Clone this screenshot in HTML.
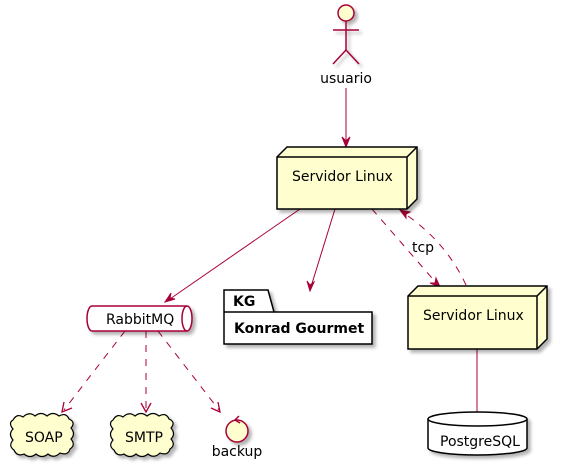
<!DOCTYPE html>
<html><head><meta charset="utf-8"><style>
html,body{margin:0;padding:0;background:#fff;}
svg{display:block;}
text{font-family:"DejaVu Sans","Liberation Sans",sans-serif;font-size:14px;fill:#000;}
</style></head><body>
<svg width="563" height="467" viewBox="0 0 563 467" xmlns="http://www.w3.org/2000/svg">
<defs>
<filter id="sh" x="-20%" y="-20%" width="150%" height="150%"><feDropShadow dx="3" dy="3" stdDeviation="1.5" flood-color="#000" flood-opacity="0.3"/></filter>
</defs>
<g stroke="#A80036" stroke-width="1.5" fill="none" filter="url(#sh)">
<circle cx="346" cy="13" r="8" fill="#FEFECE"/>
<line x1="346" y1="21" x2="346" y2="50"/>
<line x1="333" y1="30" x2="359" y2="30"/>
<polyline points="333,64 346,50 359,64"/>
</g>
<text x="346" y="83" text-anchor="middle">usuario</text>
<g stroke="#A80036" stroke-width="1" fill="none">
<line x1="346" y1="88" x2="346" y2="145"/>
<line x1="300" y1="209" x2="167" y2="301"/>
<line x1="335" y1="209" x2="310" y2="290"/>
<line x1="372" y1="209" x2="438" y2="285" stroke-dasharray="7,7"/>
<path d="M466,285 Q445,240 402,212" stroke-dasharray="7,7"/>
<line x1="477" y1="349" x2="477" y2="412"/>
<line x1="125" y1="331" x2="64" y2="410" stroke-dasharray="7,7"/>
<line x1="146" y1="331" x2="146" y2="410" stroke-dasharray="7,7"/>
<line x1="158" y1="331" x2="219" y2="410" stroke-dasharray="7,7"/>
</g>
<g fill="#A80036" stroke="#A80036">
<polygon points="346,147 342,137 346,141 350,137"/>
<polygon points="165,302 171,293 170,298 175,299"/>
<polygon points="310,291 307,281 310,285 314,282"/>
<polygon points="440,287 430,283 435,283 436,278"/>
<polygon points="400,210 410,212 406,214 406,218"/>
</g>
<g fill="none" stroke="#A80036" stroke-width="1.3">
<polyline points="64,402 62,412 72,408"/>
<polyline points="141,403 146,412 151,403"/>
<polyline points="211,408 220,412 218,402"/>
</g>
<text x="412" y="252">tcp</text>
<g stroke="#000" stroke-width="1.5" fill="#FEFECE" filter="url(#sh)">
<path d="M277,157 L287,147 L417,147 L417,199 L407,209 L277,209 Z"/>
</g>
<g stroke="#000" stroke-width="1.5" fill="none">
<path d="M277,157 L407,157 L417,147 M407,157 L407,209"/>
</g>
<text x="292" y="181">Servidor Linux</text>
<g stroke="#000" stroke-width="1.5" fill="#FEFECE" filter="url(#sh)">
<path d="M408,296 L418,286 L547,286 L547,339 L537,349 L408,349 Z"/>
</g>
<g stroke="#000" stroke-width="1.5" fill="none">
<path d="M408,296 L537,296 L547,286 M537,296 L537,349"/>
</g>
<text x="423" y="320">Servidor Linux</text>
<g stroke="#000" stroke-width="1.5" fill="#fff" filter="url(#sh)">
<path d="M428,419 A49.5,7 0 0 1 527,419 L527,448 A49.5,7 0 0 1 428,448 Z"/>
</g>
<path d="M428,419 A49.5,7 0 0 0 527,419" stroke="#000" stroke-width="1.5" fill="none"/>
<text x="440" y="446">PostgreSQL</text>
<g stroke="#A80036" stroke-width="1.5" fill="#fff" filter="url(#sh)">
<path d="M92,306 L187,306 A5,12.5 0 0 1 187,331 L92,331 A5,12.5 0 0 1 92,306 Z"/>
</g>
<path d="M187,306 A5,12.5 0 0 0 187,331" stroke="#A80036" stroke-width="1.5" fill="none"/>
<text x="106" y="324">RabbitMQ</text>
<g stroke="#000" stroke-width="1.5" fill="#fff" filter="url(#sh)">
<path d="M224,290 L268,290 L274,312 L372,312 L372,344 L224,344 Z"/>
</g>
<line x1="224" y1="312" x2="274" y2="312" stroke="#000" stroke-width="1.5"/>
<text x="233" y="306" font-weight="bold">KG</text>
<text x="234" y="333" font-weight="bold">Konrad Gourmet</text>
<g stroke="#000" stroke-width="1.2" fill="#FEFECE" filter="url(#sh)">
<path d="M13,420 q4,-7 10,-3 q6,-6 12,-1 q6,-5 12,0 q6,-5 12,0 q7,-4 10,3 q7,3 2,9 q5,6 0,11 q5,6 -1,10 q-2,7 -10,4 q-6,6 -12,1 q-6,5 -12,0 q-6,5 -12,0 q-7,3 -10,-4 q-6,-4 -1,-10 q-5,-6 0,-11 q-5,-6 0,-9 z"/>
<path d="M113,420 q4,-7 10,-3 q6,-6 12,-1 q6,-5 12,0 q6,-5 12,0 q7,-4 10,3 q7,3 2,9 q5,6 0,11 q5,6 -1,10 q-2,7 -10,4 q-6,6 -12,1 q-6,5 -12,0 q-6,5 -12,0 q-7,3 -10,-4 q-6,-4 -1,-10 q-5,-6 0,-11 q-5,-6 0,-9 z"/>
</g>
<text x="25" y="442">SOAP</text>
<text x="125" y="442">SMTP</text>
<circle cx="237" cy="431" r="11" fill="#FEFECE" stroke="#A80036" stroke-width="1.5" filter="url(#sh)"/>
<polyline points="239,416 235,420 240,423" fill="none" stroke="#A80036" stroke-width="1.5"/>
<text x="237" y="456" text-anchor="middle">backup</text>
</svg>
</body></html>
